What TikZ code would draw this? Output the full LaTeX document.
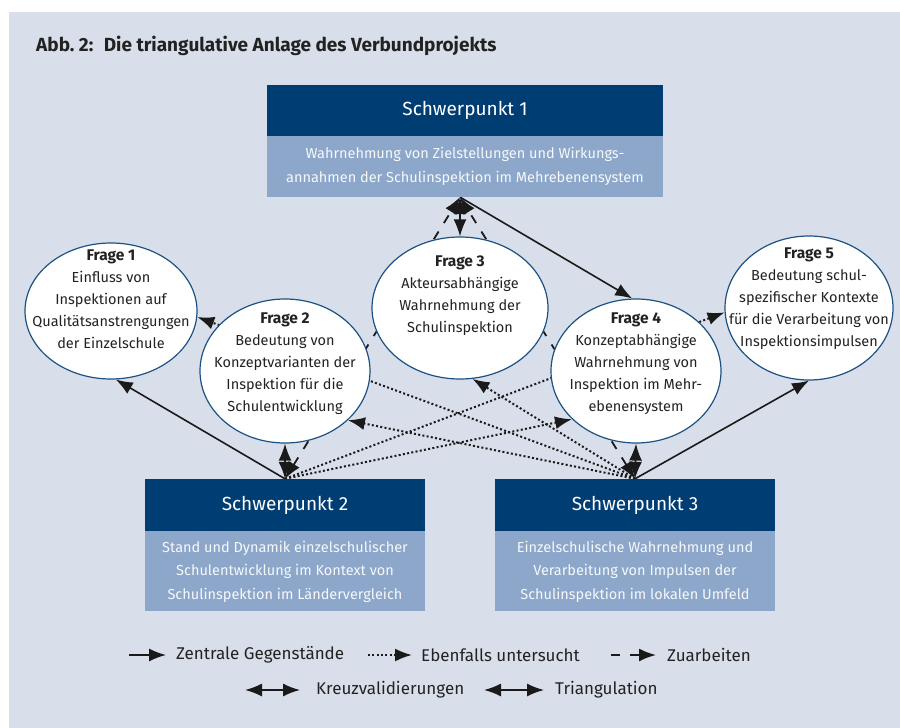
\documentclass[tikz,border=0pt]{standalone}
\usepackage{fontspec}
\setmainfont{Fira Sans}
\usetikzlibrary{positioning,shapes.geometric,arrows.meta,backgrounds}

\definecolor{panelgray}{HTML}{D9DFEA}
\definecolor{spdark}{HTML}{003D73}
\definecolor{splight}{HTML}{8CA7C9}
\definecolor{frageline}{HTML}{1C5283}
\definecolor{arrowblack}{HTML}{1A1A1A}
\definecolor{textdark}{HTML}{222222}

\tikzset{
    sphead/.style={rectangle,fill=spdark,text=white,inner sep=0pt,minimum height=51pt,font=\fontsize{19}{22}\selectfont},
    spbody/.style={rectangle,fill=splight,text=white!92!splight,align=center,inner sep=0pt,font=\fontsize{14.5}{23.5}\selectfont},
    frage/.style={shape=ellipse,draw=frageline,line width=1.2pt,fill=white,inner sep=0pt},
    fragetext/.style={align=center,text=textdark,font=\fontsize{14.5}{22}\selectfont},
    legendtext/.style={anchor=west,text=textdark,inner sep=0pt,font=\fontsize{17}{20}\selectfont},
    zentral/.style={draw=arrowblack,line width=1.6pt,-{Latex[length=17pt,width=13pt]}},
    ebenfalls/.style={draw=arrowblack,line width=2pt,dash pattern=on 2pt off 2.3pt,-{Latex[length=17pt,width=13pt]}},
    zuarbeit/.style={draw=arrowblack,line width=1.8pt,dash pattern=on 9pt off 10pt,{Latex[length=17pt,width=13pt]}-{Latex[length=17pt,width=13pt]}},
    kreuz/.style={draw=arrowblack,line width=1.6pt,{Latex[length=17pt,width=13pt]}-{Latex[length=17pt,width=13pt]}}
}

\newcommand{\fragetitle}[1]{{\fontsize{15.5}{22}\selectfont\bfseries #1}}

\begin{document}
\begin{tikzpicture}[x=1pt,y=-1pt]
    \useasboundingbox (0,0) rectangle (900,728);

    \node[anchor=west,text=textdark,inner sep=0pt,font=\fontsize{19}{22}\selectfont\bfseries] (title) at (36,46) {Abb.~2:\hspace{0.55em}Die triangulative Anlage des Verbundprojekts};

    % Schwerpunkte
    \node[sphead,minimum width=396pt] (sp1) at (465,110) {Schwerpunkt 1};
    \node[spbody,minimum width=396pt,minimum height=61pt,below=0pt of sp1] (sp1b) {Wahrnehmung von Zielstellungen und Wirkungs-\\annahmen der Schulinspektion im Mehrebenensystem};
    \node[sphead,minimum width=280pt,minimum height=52pt] (sp2) at (285,505) {Schwerpunkt 2};
    \node[spbody,minimum width=280pt,minimum height=80pt,below=0pt of sp2] (sp2b) {Stand und Dynamik einzelschulischer\\Schulentwicklung im Kontext von\\Schulinspektion im Ländervergleich};
    \node[sphead,minimum width=280pt,minimum height=52pt] (sp3) at (635,505) {Schwerpunkt 3};
    \node[spbody,minimum width=280pt,minimum height=80pt,below=0pt of sp3] (sp3b) {Einzelschulische Wahrnehmung und\\Verarbeitung von Impulsen der\\Schulinspektion im lokalen Umfeld};

    % Fragen
    \node[frage,minimum width=172pt,minimum height=136pt] (f1) at (111,311) {};
    \node[frage,minimum width=170pt,minimum height=144pt] (f2) at (285,371) {};
    \node[frage,minimum width=176pt,minimum height=142pt] (f3) at (460,308) {};
    \node[frage,minimum width=170pt,minimum height=144pt] (f4) at (636,371) {};
    \node[frage,minimum width=168pt,minimum height=144pt] (f5) at (809,308) {};

    \node[fragetext] (t1) at (111,299) {\fragetitle{Frage 1}\\Einfluss von\\Inspektionen auf\\Qualitätsanstrengungen\\der Einzelschule};
    \node[fragetext] (t2) at (285,364) {\fragetitle{Frage 2}\\Bedeutung von\\Konzeptvarianten der\\Inspektion für die\\Schulentwicklung};
    \node[fragetext] (t3) at (460,296) {\fragetitle{Frage 3}\\Akteursabhängige\\Wahrnehmung der\\Schulinspektion};
    \node[fragetext] (t4) at (636,364) {\fragetitle{Frage 4}\\Konzeptabhängige\\Wahrnehmung von\\Inspektion im Mehr-\\ebenensystem};
    \node[fragetext] (t5) at (809,299) {\fragetitle{Frage 5}\\Bedeutung schul-\\spezifischer Kontexte\\für die Verarbeitung von\\Inspektionsimpulsen};

    \begin{pgfonlayer}{background}
        \fill[white] (0,0) rectangle (900,728);
        \fill[panelgray] (9,12) rectangle (900,728);

        \path (sp2.north) edge[zentral] (f1.-86);
        \path (f3 |- sp1b.south) edge[zentral] (f4.93);
        \path (sp3.north) edge[zentral] (f5.-90);

        \path (f3 |- sp1b.south) edge[kreuz] (f3.north);
        \path (sp2.north) edge[kreuz] (f2.south);
        \path (sp3.north) edge[kreuz] (f4.south);

        \path (sp2.north) edge[zuarbeit] (f3 |- sp1b.south);
        \path (sp3.north) edge[zuarbeit] (f3 |- sp1b.south);

        \path (sp3.north) edge[ebenfalls] (f1.-4);
        \path (sp3.north) edge[ebenfalls] (f2.-38);
        \path (sp3.north) edge[ebenfalls] (f3.-80);
        \path (sp2.north) edge[ebenfalls] (f4.217);
        \path (sp2.north) edge[ebenfalls] (f5.183);
    \end{pgfonlayer}

    % Legende
    \coordinate (lz1) at (129,655);
    \coordinate (lz2) at (166,655);
    \coordinate (le1) at (368,655);
    \coordinate (le2) at (412,655);
    \coordinate (la1) at (611,655);
    \coordinate (la2) at (656,655);
    \coordinate (lk1) at (245,690);
    \coordinate (lk2) at (300,690);
    \coordinate (lt1) at (484,690);
    \coordinate (lt2) at (544,690);
    \path (lz1) edge[zentral] (lz2);
    \path (le1) edge[ebenfalls] (le2);
    \path (la1) edge[zuarbeit,-{Latex[length=17pt,width=13pt]}] (la2);
    \path (lk1) edge[kreuz] (lk2);
    \path (lt1) edge[kreuz] (lt2);
    \node[legendtext] (lzt) at (176,655) {Zentrale Gegenstände};
    \node[legendtext] (let) at (421,655) {Ebenfalls untersucht};
    \node[legendtext] (lat) at (667,655) {Zuarbeiten};
    \node[legendtext] (lkt) at (316,690) {Kreuzvalidierungen};
    \node[legendtext] (ltt) at (555,690) {Triangulation};
\end{tikzpicture}
\end{document}
